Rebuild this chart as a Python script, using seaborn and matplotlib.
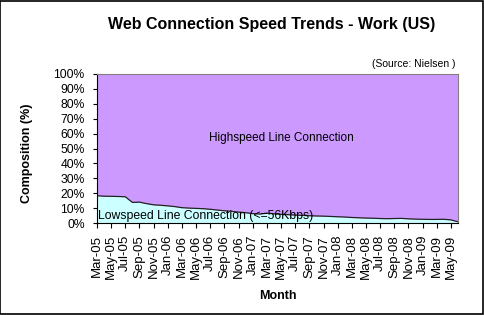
import matplotlib
matplotlib.use("Agg")
import matplotlib.pyplot as plt
import seaborn as sns
import numpy as np
import pandas as pd

months = ["Mar-05","Apr-05","May-05","Jun-05","Jul-05","Aug-05","Sep-05","Oct-05","Nov-05","Dec-05",
          "Jan-06","Feb-06","Mar-06","Apr-06","May-06","Jun-06","Jul-06","Aug-06","Sep-06","Oct-06","Nov-06","Dec-06",
          "Jan-07","Feb-07","Mar-07","Apr-07","May-07","Jun-07","Jul-07","Aug-07","Sep-07","Oct-07","Nov-07","Dec-07",
          "Jan-08","Feb-08","Mar-08","Apr-08","May-08","Jun-08","Jul-08","Aug-08","Sep-08","Oct-08","Nov-08","Dec-08",
          "Jan-09","Feb-09","Mar-09","Apr-09","May-09","Jun-09"]
lowspeed = [18.3,18.0,17.9,17.8,17.6,13.8,14.0,13.0,12.2,11.9,
            11.5,11.0,10.3,10.0,9.8,9.6,9.2,8.7,8.2,7.8,7.3,6.9,
            6.3,6.0,6.6,6.2,5.8,5.6,5.3,5.1,4.9,4.7,4.6,4.4,
            4.2,4.0,3.7,3.5,3.3,3.2,3.0,2.9,3.0,3.1,2.8,2.6,
            2.5,2.4,2.4,2.5,2.1,0.8]
highspeed = [100 - v for v in lowspeed]
y_ticks = [0,10,20,30,40,50,60,70,80,90,100]

df = pd.DataFrame({"idx": np.arange(len(months)), "month": months,
                   "low": lowspeed, "high": highspeed})
df["total"] = df["low"] + df["high"]

sns.set_theme(style="white")
plt.rcParams['font.family'] = ['Liberation Sans', 'DejaVu Sans']
plt.rcParams['text.color'] = 'black'
plt.rcParams['axes.labelcolor'] = 'black'

fig = plt.figure(figsize=(4.84, 3.15), dpi=100)
ax = fig.add_axes([97/484, 1-223/315, (458-97)/484, (223-74)/315])

ax.fill_between(df["idx"], 0, df["low"], color="#CCFFFF", linewidth=0)
ax.fill_between(df["idx"], df["low"], df["total"], color="#CC99FF", linewidth=0)
sns.lineplot(data=df, x="idx", y="low", ax=ax, color="#222222", linewidth=0.9)

ax.set_xlim(0, len(months) - 1)
ax.set_ylim(0, 100)
ax.set_yticks(y_ticks)
ax.set_yticklabels([f"{t}%" for t in y_ticks], fontsize=8.7, color="black")
ax.set_xticks(df["idx"][::2])
ax.set_xticklabels(df["month"][::2], rotation=90, fontsize=9.5, color="black")
ax.tick_params(axis="y", direction="out", length=3, width=0.8, color="black", pad=6, left=True)
ax.tick_params(axis="x", direction="out", length=3.5, width=0.8, color="black", pad=5, bottom=True)
for s in ["top", "right"]:
    ax.spines[s].set_color("#808080")
    ax.spines[s].set_linewidth(0.8)
for s in ["left", "bottom"]:
    ax.spines[s].set_color("black")
    ax.spines[s].set_linewidth(0.8)

ax.set_xlabel("Month", fontsize=9, fontweight="bold", color="black")
ax.set_ylabel("Composition (%)", fontsize=9, fontweight="bold", color="black")
ax.xaxis.set_label_coords(0.5, (223-290)/149)
ax.yaxis.set_label_coords((33-97)/361, 0.47)

ax.text(0.31, 0.57, "Highspeed Line Connection", transform=ax.transAxes,
        fontsize=8.5, color="black", va="center", ha="left")
ax.text(0.003, 0.045, "Lowspeed Line Connection (<=56Kbps)", transform=ax.transAxes,
        fontsize=8.8, color="black", va="center", ha="left")

fig.text(272/484, 1-24/315, "Web Connection Speed Trends - Work (US)",
         fontsize=11.5, fontweight="bold", ha="center", va="center", color="black")
fig.text(456/484, 1-64/315, "(Source: Nielsen )", fontsize=7.5, ha="right", va="center",
         color="black")

border = plt.Rectangle((0.001, 0.002), 0.997, 0.995, transform=fig.transFigure,
                       fill=False, edgecolor="black", linewidth=1.2)
fig.patches.append(border)

fig.savefig("out.png", dpi=100, facecolor="white")
